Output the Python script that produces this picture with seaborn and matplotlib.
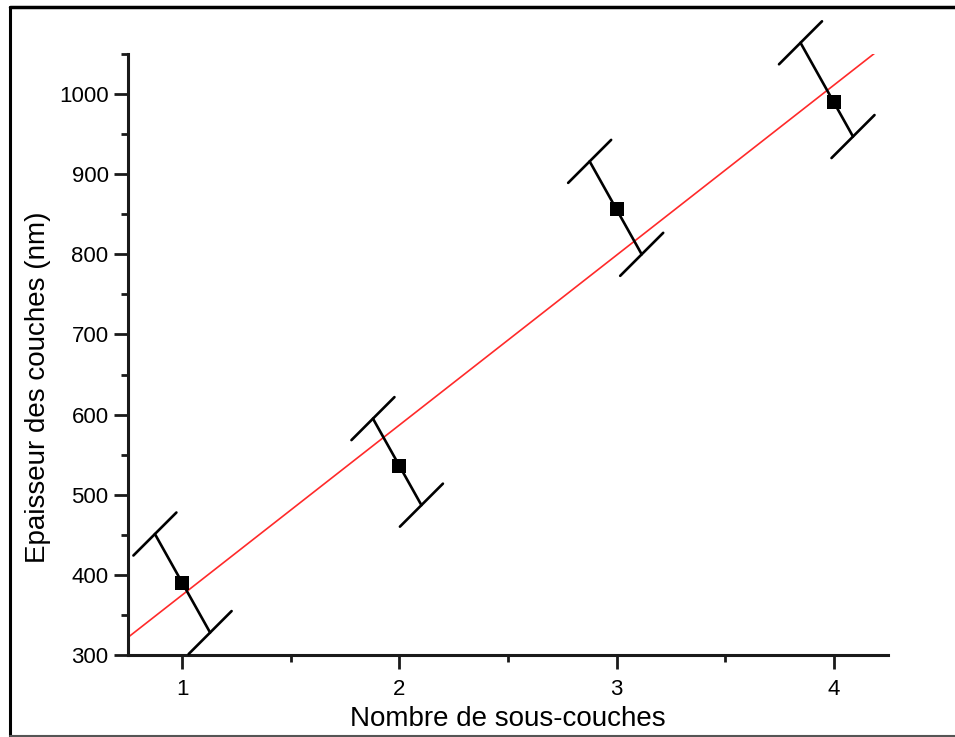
import numpy as np
import pandas as pd
import matplotlib
matplotlib.use("Agg")
import matplotlib.pyplot as plt
from matplotlib.ticker import MultipleLocator, FixedLocator
from matplotlib.lines import Line2D
import seaborn as sns

# ---- data ----
layers = [1, 2, 3, 4]
thickness = [390, 536, 856, 990]
err_up = [61, 59, 60, 74]
err_down = [62, 49, 56, 43]
x_ticks = [1, 2, 3, 4]
y_ticks = [300, 400, 500, 600, 700, 800, 900, 1000]
x_label = "Nombre de sous-couches"
y_label = "Epaisseur des couches (nm)"

df = pd.DataFrame({"x": layers, "y": thickness})

sns.set_style("ticks")
plt.rcParams["font.family"] = ["Liberation Sans", "DejaVu Sans"]
plt.rcParams["text.color"] = "black"
plt.rcParams["axes.labelcolor"] = "black"
plt.rcParams["xtick.color"] = "black"
plt.rcParams["ytick.color"] = "black"

W, H = 955, 737
fig = plt.figure(figsize=(W / 100, H / 100), dpi=100)
ax = fig.add_axes([128 / W, 1 - 655 / H, (888 - 128) / W, (655 - 54) / H])

XLIM = (0.75, 4.25)
YLIM = (300, 1050)
ax.set_xlim(*XLIM)
ax.set_ylim(*YLIM)

# linear fit line (red), clipped by axes
sns.regplot(data=df, x="x", y="y", ax=ax, scatter=False, ci=None,
            truncate=False, color="#ff2a2a", line_kws={"lw": 1.2, "zorder": 2})
ax.set_xlim(*XLIM)
ax.set_ylim(*YLIM)

# slanted error bars (as in the reference)
px_x = (888 - 128) / (XLIM[1] - XLIM[0])   # px per x unit
px_y = (655 - 54) / (YLIM[1] - YLIM[0])    # px per nm
slant = 0.56                               # horizontal px per vertical px
cap_half_px = 21.5
for xi, yi, eu, ed in zip(layers, thickness, err_up, err_down):
    xt = xi - slant * eu * px_y / px_x
    yt = yi + eu
    xb = xi + slant * ed * px_y / px_x
    yb = yi - ed
    ax.plot([xt, xb], [yt, yb], color="black", lw=1.9, clip_on=False, zorder=3)
    for (ex, ey) in [(xt, yt), (xb, yb)]:
        dx = cap_half_px / px_x
        dy = cap_half_px / px_y
        ax.plot([ex - dx, ex + dx], [ey - dy, ey + dy], color="black", lw=1.9,
                clip_on=False, zorder=3)

sns.scatterplot(data=df, x="x", y="y", ax=ax, marker="s", s=110, color="black",
                edgecolor="black", linewidth=0, zorder=4, clip_on=False)

# axes styling
for side in ["top", "right"]:
    ax.spines[side].set_visible(False)
for side in ["left", "bottom"]:
    ax.spines[side].set_linewidth(2.2)
    ax.spines[side].set_color("#1a1a1a")

ax.xaxis.set_major_locator(FixedLocator(x_ticks))
ax.xaxis.set_minor_locator(MultipleLocator(0.5))
ax.yaxis.set_major_locator(FixedLocator(y_ticks))
ax.yaxis.set_minor_locator(MultipleLocator(50))
ax.set_xticklabels([str(t) for t in x_ticks])
ax.set_yticklabels([str(t) for t in y_ticks])
ax.tick_params(axis="both", which="major", length=10, width=2, direction="out",
               labelsize=16, color="#1a1a1a", labelcolor="black")
ax.tick_params(axis="both", which="minor", length=5, width=2, direction="out",
               color="#1a1a1a")
ax.tick_params(axis="x", which="major", pad=7)
ax.tick_params(axis="y", which="major", pad=4)

ax.set_xlabel(x_label, fontsize=20, color="black")
ax.set_ylabel(y_label, fontsize=20, color="black")
ax.xaxis.label.set_va("center")
ax.yaxis.label.set_va("center")
ax.xaxis.set_label_coords((508 - 128) / (888 - 128), (655 - 719) / (655 - 54))
ax.yaxis.set_label_coords((38 - 128) / (888 - 128), (655 - 387) / (655 - 54))

# figure frame
fig.add_artist(Line2D([10 / W, 1.01], [1 - 7 / H, 1 - 7 / H], color="black", lw=2.5,
                      transform=fig.transFigure))
fig.add_artist(Line2D([10 / W, 10 / W], [1 - 7 / H, 1 - 736 / H], color="black", lw=2.2,
                      transform=fig.transFigure))
fig.add_artist(Line2D([10 / W, 1.01], [1 - 736 / H, 1 - 736 / H], color="#555555", lw=1.5,
                      transform=fig.transFigure))

fig.savefig("out.png", dpi=100)
